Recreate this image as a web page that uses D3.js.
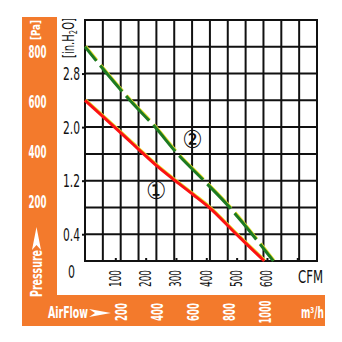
<!DOCTYPE html>
<html><head><meta charset="utf-8">
<script src="https://cdn.jsdelivr.net/npm/d3@7"></script>
<style>
html,body{margin:0;padding:0;background:#fff;}
svg{display:block;}
text{font-family:"Liberation Sans Narrow","Arial Narrow","DejaVu Sans Condensed",sans-serif;}
</style></head><body>
<svg id="chart" width="342" height="342"></svg>
<script>
// Pressure axis (in.H2O) labels and grid step
const pressureTicks = [0, 0.4, 1.2, 2.0, 2.8];
const pressureMax = 3.6;
const pressureStep = 0.4;
// Secondary pressure labels (Pa)
const paTicks = [200, 400, 600, 800];
// Airflow tick marks (CFM); the last mark carries no label
const cfmTicks = [100, 200, 300, 400, 500, 600, 700];
const cfmMax = 765;
const gridColumns = 13;
// Secondary airflow labels (m³/h)
const m3hTicks = [200, 400, 600, 800, 1000];
// Fan curves: [CFM, in.H2O]
const curve1 = [[0,2.4],[143,1.81],[181,1.65],[237,1.42],[297,1.2],[357,0.99],[412,0.79],[490,0.44],[545,0.2],[591,0]];
const curve2 = [[0,3.2],[72,2.8],[148,2.4],[231,2.0],[303,1.61],[390,1.21],[479,0.79],[522,0.56],[567,0.31],[621,0]];
// Curve identifiers: [label, CFM, in.H2O]
const curveLabels = [["\u2460", 234, 1.06], ["\u2461", 354, 1.82]];

const svg = d3.select("#chart");
const ORANGE = "#f37a2c";

const x = d3.scaleLinear().domain([0, cfmMax]).range([85, 317]);
const y = d3.scaleLinear().domain([0, pressureMax]).range([261, 20]);
const yPa = d3.scaleLinear().domain([0, 800]).range([252, 52]);
const xM3h = d3.scaleLinear().domain([200, 1000]).range([122, 265.5]);

// orange L-shaped band
svg.append("path")
  .attr("d", "M22,17H57V295H325V326H22Z")
  .attr("fill", ORANGE);

// grid
const g = svg.append("g");
g.selectAll("line.h").data(d3.range(0, pressureMax / pressureStep + 1))
  .join("line")
  .attr("x1", x(0)).attr("x2", x(cfmMax))
  .attr("y1", i => y(i * pressureStep)).attr("y2", i => y(i * pressureStep))
  .attr("stroke", "#111").attr("stroke-width", 2);
g.selectAll("line.v").data(d3.range(0, gridColumns + 1))
  .join("line")
  .attr("y1", y(0) + 1).attr("y2", y(pressureMax) - 1)
  .attr("x1", i => x(cfmMax * i / gridColumns)).attr("x2", i => x(cfmMax * i / gridColumns))
  .attr("stroke", "#111").attr("stroke-width", 2);

// left axis (in.H2O)
const yAxis = svg.append("g").attr("transform", `translate(${x(0)},0)`)
  .call(d3.axisLeft(y).tickValues(pressureTicks).tickSize(3).tickPadding(2)
    .tickFormat(d => d === 0 ? "0" : d3.format(".1f")(d)));
yAxis.select(".domain").remove();
yAxis.selectAll("line").attr("stroke", "#111").attr("stroke-width", 2);
yAxis.selectAll("text")
  .attr("fill", "#111").attr("font-size", 17)
  .attr("font-family", "'Liberation Sans Narrow','Arial Narrow',sans-serif")
  .attr("textLength", d => d === 0 ? 7 : 17).attr("lengthAdjust", "spacingAndGlyphs")
  .attr("dy", d => d === 0 ? "0.95em" : "0.36em")
  .attr("x", d => d === 0 ? -10 : -5);
yAxis.selectAll(".tick").filter(d => d === 0).select("line").remove();

// bottom axis (CFM)
const xAxis = svg.append("g").attr("transform", `translate(0,${y(0)})`)
  .call(d3.axisBottom(x).tickValues(cfmTicks).tickSize(-3).tickFormat(d => d < 700 ? d : ""));
xAxis.select(".domain").remove();
xAxis.selectAll("line").attr("stroke", "#111").attr("stroke-width", 2);
xAxis.selectAll("text")
  .attr("fill", "#111").attr("font-size", 15)
  .attr("textLength", 17).attr("lengthAdjust", "spacingAndGlyphs")
  .attr("text-anchor", "end").attr("dy", null)
  .attr("transform", "rotate(-90)")
  .attr("x", -9).attr("y", 5);

// frame
svg.append("rect")
  .attr("x", x(0)).attr("y", y(pressureMax))
  .attr("width", x(cfmMax) - x(0)).attr("height", y(0) - y(pressureMax))
  .attr("fill", "none").attr("stroke", "#111").attr("stroke-width", 2);

// curves
const line = d3.line().x(d => x(d[0])).y(d => y(d[1])).curve(d3.curveMonotoneX);
function drawCurve(data, color, dash) {
  svg.append("path").datum(data).attr("d", line)
    .attr("fill", "none").attr("stroke", "#e6e02a").attr("stroke-width", 2.6)
    .attr("transform", "translate(0.7,-0.7)")
    .attr("stroke-dasharray", dash).attr("stroke-dashoffset", dash ? 16 : null);
  svg.append("path").datum(data).attr("d", line)
    .attr("fill", "none").attr("stroke", color).attr("stroke-width", 3)
    .attr("stroke-dasharray", dash).attr("stroke-dashoffset", dash ? 16 : null);
}
drawCurve(curve1, "#fb1212", null);
drawCurve(curve2, "#1d7a22", "34,6");

svg.selectAll("text.cl").data(curveLabels).join("text")
  .attr("class", "cl")
  .attr("x", d => x(d[1])).attr("y", d => y(d[2]))
  .attr("text-anchor", "middle").attr("dominant-baseline", "central")
  .attr("font-family", "'Noto Sans CJK JP',sans-serif").attr("font-size", 25)
  .attr("fill", "#111").text(d => d[0]);

// unit labels
const unitH2O = svg.append("text")
  .attr("transform", "translate(74,58) rotate(-90)")
  .attr("font-size", 15).attr("fill", "#111")
  .attr("textLength", 40).attr("lengthAdjust", "spacingAndGlyphs");
unitH2O.append("tspan").text("[in.H");
unitH2O.append("tspan").attr("font-size", 10).attr("dy", 3).text("2");
unitH2O.append("tspan").attr("dy", -3).text("O]");

svg.append("text").attr("x", 298).attr("y", 283)
  .attr("font-size", 17).attr("fill", "#111")
  .attr("textLength", 25).attr("lengthAdjust", "spacingAndGlyphs").text("CFM");

// Pa labels on the orange band
svg.append("text").attr("transform", "translate(40,40) rotate(-90)")
  .attr("font-size", 13).attr("font-weight", "bold").attr("fill", "#fff")
  .attr("textLength", 20).attr("lengthAdjust", "spacingAndGlyphs").text("[Pa]");
svg.selectAll("text.pa").data(paTicks).join("text")
  .attr("class", "pa")
  .attr("x", 37.5).attr("y", d => yPa(d)).attr("dy", "0.36em")
  .attr("text-anchor", "middle").attr("font-size", 18).attr("font-weight", "bold")
  .attr("fill", "#fff").attr("textLength", 18).attr("lengthAdjust", "spacingAndGlyphs")
  .text(d => d);

svg.append("text").attr("transform", "translate(42,297) rotate(-90)")
  .attr("font-size", 16).attr("font-weight", "bold").attr("fill", "#fff")
  .attr("textLength", 47).attr("lengthAdjust", "spacingAndGlyphs").text("Pressure");
svg.append("path").attr("d", "M36.5,227L41,250L36.5,245L32,250Z").attr("fill", "#fff");

// m³/h labels on the bottom band
svg.append("text").attr("x", 48).attr("y", 318)
  .attr("font-size", 16).attr("font-weight", "bold").attr("fill", "#fff")
  .attr("textLength", 40).attr("lengthAdjust", "spacingAndGlyphs").text("AirFlow");
svg.append("path").attr("d", "M89,309L111,313L89,317L95,313Z").attr("fill", "#fff");
svg.selectAll("text.m3h").data(m3hTicks).join("text")
  .attr("class", "m3h")
  .attr("transform", d => `translate(${xM3h(d)},312) rotate(-90)`)
  .attr("text-anchor", "middle").attr("dy", "0.36em")
  .attr("font-size", 15).attr("font-weight", "bold").attr("fill", "#fff")
  .attr("textLength", d => d >= 1000 ? 23 : 18).attr("lengthAdjust", "spacingAndGlyphs")
  .text(d => d);
svg.append("text").attr("x", 301).attr("y", 318)
  .attr("font-size", 15).attr("font-weight", "bold").attr("fill", "#fff")
  .attr("textLength", 23).attr("lengthAdjust", "spacingAndGlyphs").text("m³/h");
</script>
</body></html>
